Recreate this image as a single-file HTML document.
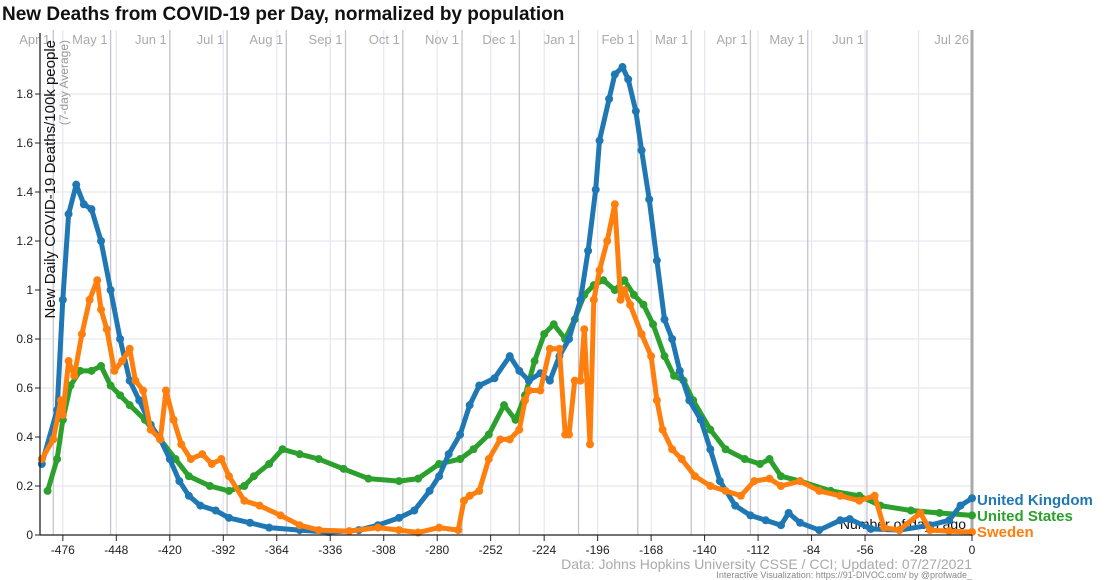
<!DOCTYPE html>
<html><head><meta charset="utf-8"><style>
body{margin:0;background:#fff;font-family:"Liberation Sans",sans-serif}
svg{display:block}
</style></head><body>
<svg id="chart" width="1108" height="580" xmlns="http://www.w3.org/2000/svg">
<text x="2" y="20" font-size="19" font-weight="bold" fill="#111">New Deaths from COVID-19 per Day, normalized by population</text>
<g id="grid"></g>
<text x="966" y="529" font-size="14" fill="#111" text-anchor="end">Number of days ago</text>
<g id="series"></g>
<g id="axes"></g>
<text x="972" y="569" font-size="14" fill="#aaa" text-anchor="end">Data: Johns Hopkins University CSSE / CCI; Updated: 07/27/2021</text>
<text x="972" y="578" font-size="9" fill="#888" text-anchor="end">Interactive Visualization: https://91-DIVOC.com/ by @profwade_</text>
</svg>
<script>
const ukDays=[-487,-479,-476,-473,-469,-465,-461,-456,-451,-446,-441,-436,-430,-425,-420,-415,-410,-404,-396,-389,-378,-368,-352,-337,-321,-311,-300,-292,-284,-279,-274,-268,-263,-258,-250,-242,-237,-232,-226,-221,-216,-211,-205,-201,-197,-195,-190,-187,-183,-180,-176,-173,-169,-165,-161,-157,-153,-148,-142,-137,-132,-124,-116,-108,-100,-96,-90,-80,-69,-64,-53,-38,-22,-12,-6,0];
const ukVals=[0.29,0.51,0.96,1.31,1.43,1.35,1.33,1.2,1.0,0.8,0.63,0.55,0.45,0.39,0.31,0.22,0.16,0.12,0.1,0.07,0.05,0.03,0.02,0.012,0.02,0.04,0.07,0.1,0.18,0.24,0.33,0.41,0.53,0.61,0.64,0.73,0.67,0.63,0.66,0.63,0.73,0.8,0.96,1.16,1.41,1.61,1.78,1.88,1.91,1.86,1.73,1.57,1.37,1.12,0.88,0.8,0.67,0.55,0.47,0.35,0.22,0.12,0.08,0.06,0.04,0.09,0.05,0.02,0.06,0.065,0.025,0.02,0.04,0.06,0.12,0.15];
const usDays=[-484,-479,-476,-472,-467,-461,-456,-451,-446,-441,-433,-425,-417,-410,-399,-389,-381,-376,-368,-361,-352,-342,-329,-316,-300,-290,-279,-268,-261,-253,-245,-239,-234,-229,-224,-219,-213,-208,-203,-198,-193,-187,-182,-177,-172,-167,-161,-156,-151,-146,-137,-129,-119,-111,-106,-100,-90,-74,-59,-48,-32,-17,0];
const usVals=[0.18,0.31,0.47,0.61,0.67,0.67,0.69,0.61,0.57,0.53,0.47,0.39,0.31,0.24,0.2,0.18,0.2,0.24,0.29,0.35,0.33,0.31,0.27,0.23,0.22,0.23,0.29,0.31,0.35,0.41,0.53,0.47,0.57,0.71,0.82,0.86,0.8,0.88,0.98,1.02,1.04,1.0,1.04,0.98,0.94,0.86,0.73,0.65,0.63,0.55,0.43,0.35,0.31,0.29,0.31,0.24,0.22,0.18,0.16,0.12,0.1,0.09,0.08];
const seDays=[-487,-481,-477,-476,-473,-470,-466,-462,-458,-456,-453,-449,-445,-441,-438,-434,-430,-425,-422,-418,-414,-409,-403,-398,-393,-389,-381,-373,-362,-352,-342,-326,-311,-300,-290,-279,-269,-266,-263,-258,-253,-247,-242,-237,-234,-232,-226,-221,-216,-213,-211,-208,-205,-203,-200,-198,-195,-191,-187,-184,-182,-179,-173,-168,-165,-162,-157,-152,-145,-137,-129,-121,-114,-106,-100,-90,-80,-69,-59,-51,-46,-38,-27,-22,-12,0];
const seVals=[0.31,0.39,0.55,0.49,0.71,0.65,0.82,0.96,1.04,0.92,0.84,0.67,0.71,0.76,0.63,0.59,0.43,0.39,0.59,0.47,0.37,0.31,0.33,0.29,0.31,0.24,0.14,0.12,0.08,0.04,0.02,0.016,0.03,0.02,0.01,0.03,0.02,0.14,0.16,0.18,0.31,0.39,0.39,0.43,0.55,0.59,0.59,0.76,0.76,0.41,0.41,0.63,0.63,0.84,0.37,0.96,1.08,1.2,1.35,0.96,1.0,0.94,0.82,0.73,0.55,0.43,0.35,0.31,0.24,0.2,0.18,0.16,0.22,0.23,0.2,0.22,0.18,0.16,0.14,0.16,0.03,0.02,0.09,0.02,0.016,0.012];
const yTicks=[0,0.2,0.4,0.6,0.8,1,1.2,1.4,1.6,1.8];
const xTicks=[-476,-448,-420,-392,-364,-336,-308,-280,-252,-224,-196,-168,-140,-112,-84,-56,-28,0];
const monthDays=[-481,-451,-420,-390,-359,-328,-298,-267,-237,-206,-175,-147,-116,-86,-55,0];
const monthLabels=["Apr 1","May 1","Jun 1","Jul 1","Aug 1","Sep 1","Oct 1","Nov 1","Dec 1","Jan 1","Feb 1","Mar 1","Apr 1","May 1","Jun 1","Jul 26"];

const NS="http://www.w3.org/2000/svg";
const X=d=>972+d*1.910;
const Y=v=>535-v*245;
function mk(tag,attrs,parent){const e=document.createElementNS(NS,tag);for(const k in attrs)e.setAttribute(k,attrs[k]);parent.appendChild(e);return e;}
const grid=document.getElementById('grid'),axes=document.getElementById('axes'),series=document.getElementById('series');
yTicks.forEach(v=>{
  const l=mk('line',{x1:40,x2:972,y1:Y(v),y2:Y(v),stroke:'#e6e6f2','stroke-width':1.2},grid);
  
  
  const t=mk('text',{x:33,y:Y(v)+4,'font-size':12,'text-anchor':'end',fill:'#222'},axes);
  t.textContent=String(v);
  
  
  mk('line',{x1:35,x2:40,y1:Y(v),y2:Y(v),stroke:'#222'},axes);
});
xTicks.forEach(d=>{
  const l=mk('line',{x1:X(d),x2:X(d),y1:30,y2:535,stroke:'#e6e6f2','stroke-width':1.2},grid);
  
  
  mk('line',{x1:X(d),x2:X(d),y1:535,y2:541,stroke:'#222'},axes);
  const t=mk('text',{x:X(d),y:554,'font-size':12,'text-anchor':'middle',fill:'#222'},axes);
  t.textContent=String(d);
  
  
});
monthDays.forEach((d,i)=>{
  const last=i===monthDays.length-1;
  const l=mk('line',{x1:X(d),x2:X(d),y1:30,y2:535,stroke:last?'#aaa':'#c4c4cc','stroke-width':last?3:1.3},grid);
  
  
  const t=mk('text',{x:X(d)-3,y:44,'font-size':13,'text-anchor':'end',fill:'#aaa'},grid);
  t.textContent=monthLabels[i];
  
  
});
mk('line',{x1:40,x2:40,y1:33,y2:535,stroke:'#222','stroke-width':1.3},axes);
mk('line',{x1:40,x2:972,y1:535,y2:535,stroke:'#222','stroke-width':1.3},axes);
const yt=mk('text',{transform:'translate(55,40) rotate(-90)','font-size':15,'text-anchor':'end',fill:'#111'},axes);
yt.textContent='New Daily COVID-19 Deaths/100k people';


const ys=mk('text',{transform:'translate(68,40) rotate(-90)','font-size':12,'text-anchor':'end',fill:'#999'},axes);
ys.textContent='(7-day Average)';



function draw(days,vals,color,name,label,ly){
  const g=mk('g',{},series);
  
  
  const pts=days.map((d,i)=>X(d).toFixed(1)+','+Y(vals[i]).toFixed(1)).join(' ');
  mk('polyline',{points:pts,fill:'none',stroke:color,'stroke-width':5,'stroke-linejoin':'round'},g);
  days.forEach((d,i)=>{const c=mk('circle',{cx:X(d),cy:Y(vals[i]),r:4,fill:color},g);
    
    });
  const t=mk('text',{x:977,y:ly,'font-size':15,'font-weight':'bold',fill:color},series);
  t.textContent=label;
  
  
}
draw(usDays,usVals,'#2ca02c','united-states','United States',521);
draw(ukDays,ukVals,'#1f77b4','united-kingdom','United Kingdom',505);
draw(seDays,seVals,'#ff7f0e','sweden','Sweden',537);
</script>
</body></html>
